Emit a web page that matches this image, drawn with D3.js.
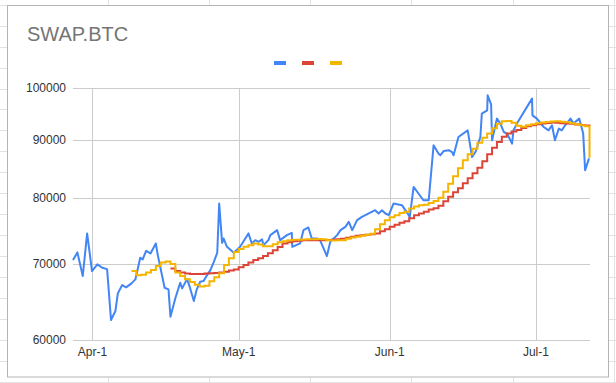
<!DOCTYPE html>
<html>
<head>
<meta charset="utf-8">
<script src="https://cdn.jsdelivr.net/npm/d3@7"></script>
<style>
  body { margin: 0; background: #fff; }
  text { font-family: Arial, "Liberation Sans", sans-serif; }
</style>
</head>
<body>
<div id="chart"></div>
<script>
// chart values
var title = "SWAP.BTC";
var startDate = new Date(Date.UTC(2024, 2, 28));   // Mar-28, day 0
var endDay = 106.1;
var yTicks = [60000, 70000, 80000, 90000, 100000];

// price (blue): day offset from Mar-28 and value
var blueDays = [0, 0.9, 2.0, 2.9, 3.9, 5.0, 6.0, 7.0, 7.8, 8.7, 9.2, 10.1, 10.9, 12.0, 12.8, 13.8, 14.3, 15.0, 15.9, 17.0,
  17.4, 18.8, 19.6, 20.0, 21.0, 22.0, 22.4, 23.4, 23.9, 24.8, 25.4, 26.1, 26.8, 27.5, 28.2, 28.9, 29.6, 30.0, 30.6, 30.9,
  31.6, 33.0, 34.3, 36.0, 36.7, 37.4, 38.1, 38.8, 39.1, 40.1, 40.5, 41.9, 42.5, 43.9, 44.9, 45.0, 46.6, 47.3, 48.3, 49.0,
  50.1, 50.7, 52.1, 52.8, 54.2, 54.9, 55.9, 56.6, 57.3, 58.3, 59.3, 62.0, 62.7, 63.4, 64.1, 64.8, 65.8, 67.5, 68.9, 69.1,
  69.9, 70.9, 71.9, 73.0, 74.0, 75.0, 75.4, 76.1, 77.1, 77.8, 78.1, 79.1, 81.0, 81.9, 82.6, 83.6, 83.9, 85.0, 85.1, 85.8,
  86.0, 87.0, 87.7, 88.4, 89.1, 90.1, 90.4, 91.1, 94.2, 94.3, 95.2, 96.6, 97.6, 98.3, 98.9, 99.7, 100.3, 101.0, 102.1, 102.7,
  103.9, 104.7, 105.1, 105.9];
var blueValues = [70550, 71660, 68300, 74470, 69000, 69940, 69460, 69270, 62480, 63630, 65950, 67070, 66760, 67300, 67840, 70880, 70650, 71880, 71510, 72970,
  71270, 66700, 66490, 62900, 65290, 67380, 66620, 67880, 66930, 64930, 66490, 67520, 67610, 68430, 69130, 70310, 71600, 79130, 73060, 73710,
  72470, 71600, 72470, 74470, 72970, 73460, 73210, 73570, 72720, 73460, 74210, 74960, 73460, 74210, 74560, 72470, 72970, 74960, 75370, 73710,
  73710, 73460, 71120, 73210, 74210, 74960, 75470, 76230, 74960, 76500, 77010, 78060, 77540, 78060, 77540, 77280, 79130, 78860, 77280, 76920,
  81830, 80750, 79650, 79650, 89040, 87560, 87260, 88020, 88150, 87800, 87260, 90550, 91780, 86950, 87840, 90550, 94940, 95580, 98520, 96750,
  89950, 93980, 93040, 91470, 91170, 89340, 91780, 93040, 97870, 94610, 93980, 92400, 91780, 92720, 89950, 92100, 91780, 92720, 93980, 93040,
  93980, 91170, 84650, 86700];

// slow average (red), one value per day from day 20
var redStart = 20;
var redValues = [69370, 69000, 68790, 68650, 68580, 68580, 68600, 68650, 68690, 68740, 68790, 68920, 69060, 69220, 69550, 69840, 70200, 70550, 70830, 71120,
  71550, 71990, 72430, 72950, 73160, 73310, 73380, 73430, 73460, 73460, 73460, 73460, 73490, 73530, 73610, 73680, 73830, 73980, 74130, 74210,
  74280, 74360, 74460, 74810, 75110, 75500, 75800, 76110, 76340, 76810, 77280, 77520, 77830, 78150, 78380, 78780, 79490, 80220, 80960, 81620,
  82450, 83280, 84140, 85070, 86200, 87440, 88600, 89640, 90600, 91210, 91580, 91860, 92230, 92530, 92720, 92910, 93040, 93140, 93230, 93190,
  93100, 93040, 93000, 92850, 92760, 92660, 92590];

// fast average (yellow), one value per day from day 12
var yellowStart = 12;
var yellowValues = [69000, 68430, 68500, 68800, 69130, 69700, 70200, 70350, 69980, 68800, 68300, 67880, 67470, 67120, 66860, 66990, 67600, 68150, 68710, 69840,
  70830, 71700, 72140, 72470, 72720, 72970, 72800, 72570, 72570, 72870, 73160, 73310, 73460, 73530, 73530, 73560, 73610, 73610, 73650, 73610,
  73460, 73410, 73460, 73460, 73680, 73860, 73980, 74130, 74280, 74430, 75110, 75880, 76500, 76970, 77280, 77600, 77830, 78320, 78640, 78860,
  78940, 79210, 79520, 80050, 81050, 82360, 83620, 84990, 86380, 87440, 88410, 89500, 90400, 91210, 92150, 93000, 93470, 93530, 93190, 92630,
  92440, 92720, 92910, 93100, 93230, 93330, 93440, 93470, 93380, 93280, 93100, 92910, 92720, 92530, 86800];

var colors = ["#4285f4", "#db4437", "#f4b400"];

var W = 616, H = 383;
var margin = {top: 88, right: 26, bottom: 43, left: 73};

var svg = d3.select("#chart").append("svg")
  .attr("width", W).attr("height", H);

// spreadsheet cells behind the chart
var colLines = [108, 209, 310, 411, 513, 614];
svg.selectAll(".col").data(colLines).enter().append("line")
  .attr("x1", d => d + 0.5).attr("x2", d => d + 0.5)
  .attr("y1", 0).attr("y2", H)
  .attr("stroke", "#e2e2e2");
svg.selectAll(".row").data(d3.range(0, 19)).enter().append("line")
  .attr("x1", 0).attr("x2", W)
  .attr("y1", d => Math.round(4.7 + 20.95 * d) + 0.5)
  .attr("y2", d => Math.round(4.7 + 20.95 * d) + 0.5)
  .attr("stroke", "#e2e2e2");

// chart frame
svg.append("rect")
  .attr("x", 7.5).attr("y", 5.5).attr("width", 601).attr("height", 371.5)
  .attr("fill", "#fff").attr("stroke", "#b4b4b4");

var dayToDate = d => new Date(startDate.getTime() + d * 864e5);

var x = d3.scaleUtc()
  .domain([startDate, dayToDate(endDay)])
  .range([margin.left, W - margin.right]);
var y = d3.scaleLog()
  .domain([60000, 100000])
  .range([H - margin.bottom, margin.top]);

// gridlines
svg.selectAll(".hgrid").data(yTicks).enter().append("line")
  .attr("x1", margin.left).attr("x2", W - margin.right)
  .attr("y1", d => Math.round(y(d)) + 0.5).attr("y2", d => Math.round(y(d)) + 0.5)
  .attr("stroke", "#cccccc");
var months = x.ticks(d3.utcMonth.every(1));
svg.selectAll(".vgrid").data(months).enter().append("line")
  .attr("x1", d => Math.round(x(d)) + 0.5).attr("x2", d => Math.round(x(d)) + 0.5)
  .attr("y1", margin.top).attr("y2", H - margin.bottom)
  .attr("stroke", "#cccccc");

// axis labels
svg.selectAll(".ylab").data(yTicks).enter().append("text")
  .attr("x", margin.left - 7).attr("y", d => y(d) + 4)
  .attr("text-anchor", "end")
  .attr("font-size", "12px").attr("fill", "#333")
  .text(d => d);
var fmt = d3.utcFormat("%b-%-d");
svg.selectAll(".xlab").data(months).enter().append("text")
  .attr("x", d => x(d)).attr("y", H - margin.bottom + 16)
  .attr("text-anchor", "middle")
  .attr("font-size", "12px").attr("fill", "#333")
  .text(d => fmt(d));

// series
var blue = blueDays.map((d, i) => [dayToDate(d), blueValues[i]]);
var red = redValues.map((v, i) => [dayToDate(redStart + i), v]);
var yellow = yellowValues.map((v, i) => [dayToDate(yellowStart + i), v]);

var line = d3.line().x(d => x(d[0])).y(d => y(d[1]));
var stepLine = d3.line().x(d => x(d[0])).y(d => y(d[1])).curve(d3.curveStepAfter);

svg.append("path").datum(blue)
  .attr("d", line).attr("fill", "none")
  .attr("stroke", colors[0]).attr("stroke-width", 2).attr("stroke-linejoin", "round");
svg.append("path").datum(red)
  .attr("d", stepLine).attr("fill", "none")
  .attr("stroke", colors[1]).attr("stroke-width", 2);
svg.append("path").datum(yellow)
  .attr("d", stepLine).attr("fill", "none")
  .attr("stroke", colors[2]).attr("stroke-width", 2);

// title
svg.append("text")
  .attr("x", 27).attr("y", 41)
  .attr("font-size", "20px").attr("fill", "#757575")
  .text(title);

// legend (no labels)
svg.selectAll(".leg").data(colors).enter().append("rect")
  .attr("x", (d, i) => 274 + i * 28).attr("y", 61)
  .attr("width", 12).attr("height", 4)
  .attr("fill", d => d);
</script>
</body>
</html>
